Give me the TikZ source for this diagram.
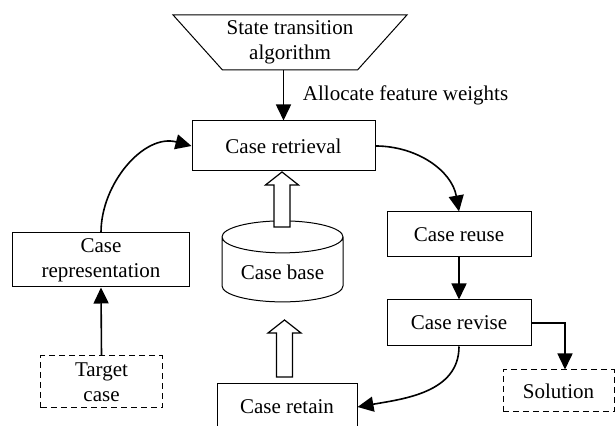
\documentclass[tikz,border=0pt]{standalone}
\usepackage{fontspec}
\setmainfont{Liberation Serif}
\usetikzlibrary{shapes.geometric,arrows.meta,positioning}

\tikzset{
  box/.style={draw, line width=0.5bp, align=center, inner sep=2bp},
  dashbox/.style={box, dash pattern=on 3bp off 2bp},
  arr/.style={line width=0.8bp, -{Triangle[length=8bp,width=7.5bp]}},
  hollow/.style={draw, line width=0.6bp, fill=white},
}

\begin{document}
\begin{tikzpicture}[x=0.5bp, y=0.5bp, font=\fontsize{10.5bp}{12.5bp}\selectfont]
  \useasboundingbox (0,0) rectangle (616,426);
  % nodes
  \node[box, trapezium, shape border rotate=180, trapezium angle=44,
        trapezium stretches=true, minimum width=117bp, minimum height=27.5bp, inner sep=0.5bp]
        (algo) at (290,383.5) {State transition\\algorithm};
  \node[box, minimum width=91.5bp, minimum height=25bp] (retrieval) at (283.5,280) {Case retrieval};
  \node[box, minimum width=72bp, minimum height=22.5bp] (reuse) at (459,191.5) {Case reuse};
  \node[box, minimum width=72bp, minimum height=23bp] (revise) at (459,103) {Case revise};
  \node[dashbox, minimum width=55.5bp, minimum height=21bp] (solution) at (558.5,35) {Solution};
  \node[box, minimum width=70bp, minimum height=23bp] (retain) at (287,19) {Case retain};
  \node[box, minimum width=88bp, minimum height=27bp, inner sep=0.5bp] (rep) at (101,166) {Case\\representation};
  \node[dashbox, minimum width=60.5bp, minimum height=26bp, inner sep=0.5bp] (target) at (101.5,44) {Target\\case};
  \node[box, cylinder, shape border rotate=90, aspect=0.35,
        minimum width=60.5bp, minimum height=40.5bp] (base) at (282.5,153.5) {Case base};

  % connectors
  \draw[arr] (retrieval.north |- algo.south) -- (retrieval.north)
    node[midway, right=6bp] {Allocate feature weights};
  \draw[arr] (rep.north) to[out=90, in=165] (retrieval.west);
  \draw[arr] (retrieval.east) to[out=0, in=100] (reuse.north);
  \draw[arr] (reuse.south) -- (revise.north);
  \draw[arr] (revise.east) -| ([xshift=3.25bp]solution.north);
  \draw[arr] (revise.south) to[out=-90, in=10] (retain.east);
  \draw[arr] (target.north) -- (rep.south);

  % hollow arrows
  \foreach \ax/\ay/\by in {282/199/254, 284.5/49/106}
    \draw[hollow] ({\ax-8},\ay) -- ({\ax-8},{\by-13}) -- ({\ax-16.5},{\by-13}) -- (\ax,\by)
      -- ({\ax+16.5},{\by-13}) -- ({\ax+8},{\by-13}) -- ({\ax+8},\ay) -- cycle;
\end{tikzpicture}
\end{document}
